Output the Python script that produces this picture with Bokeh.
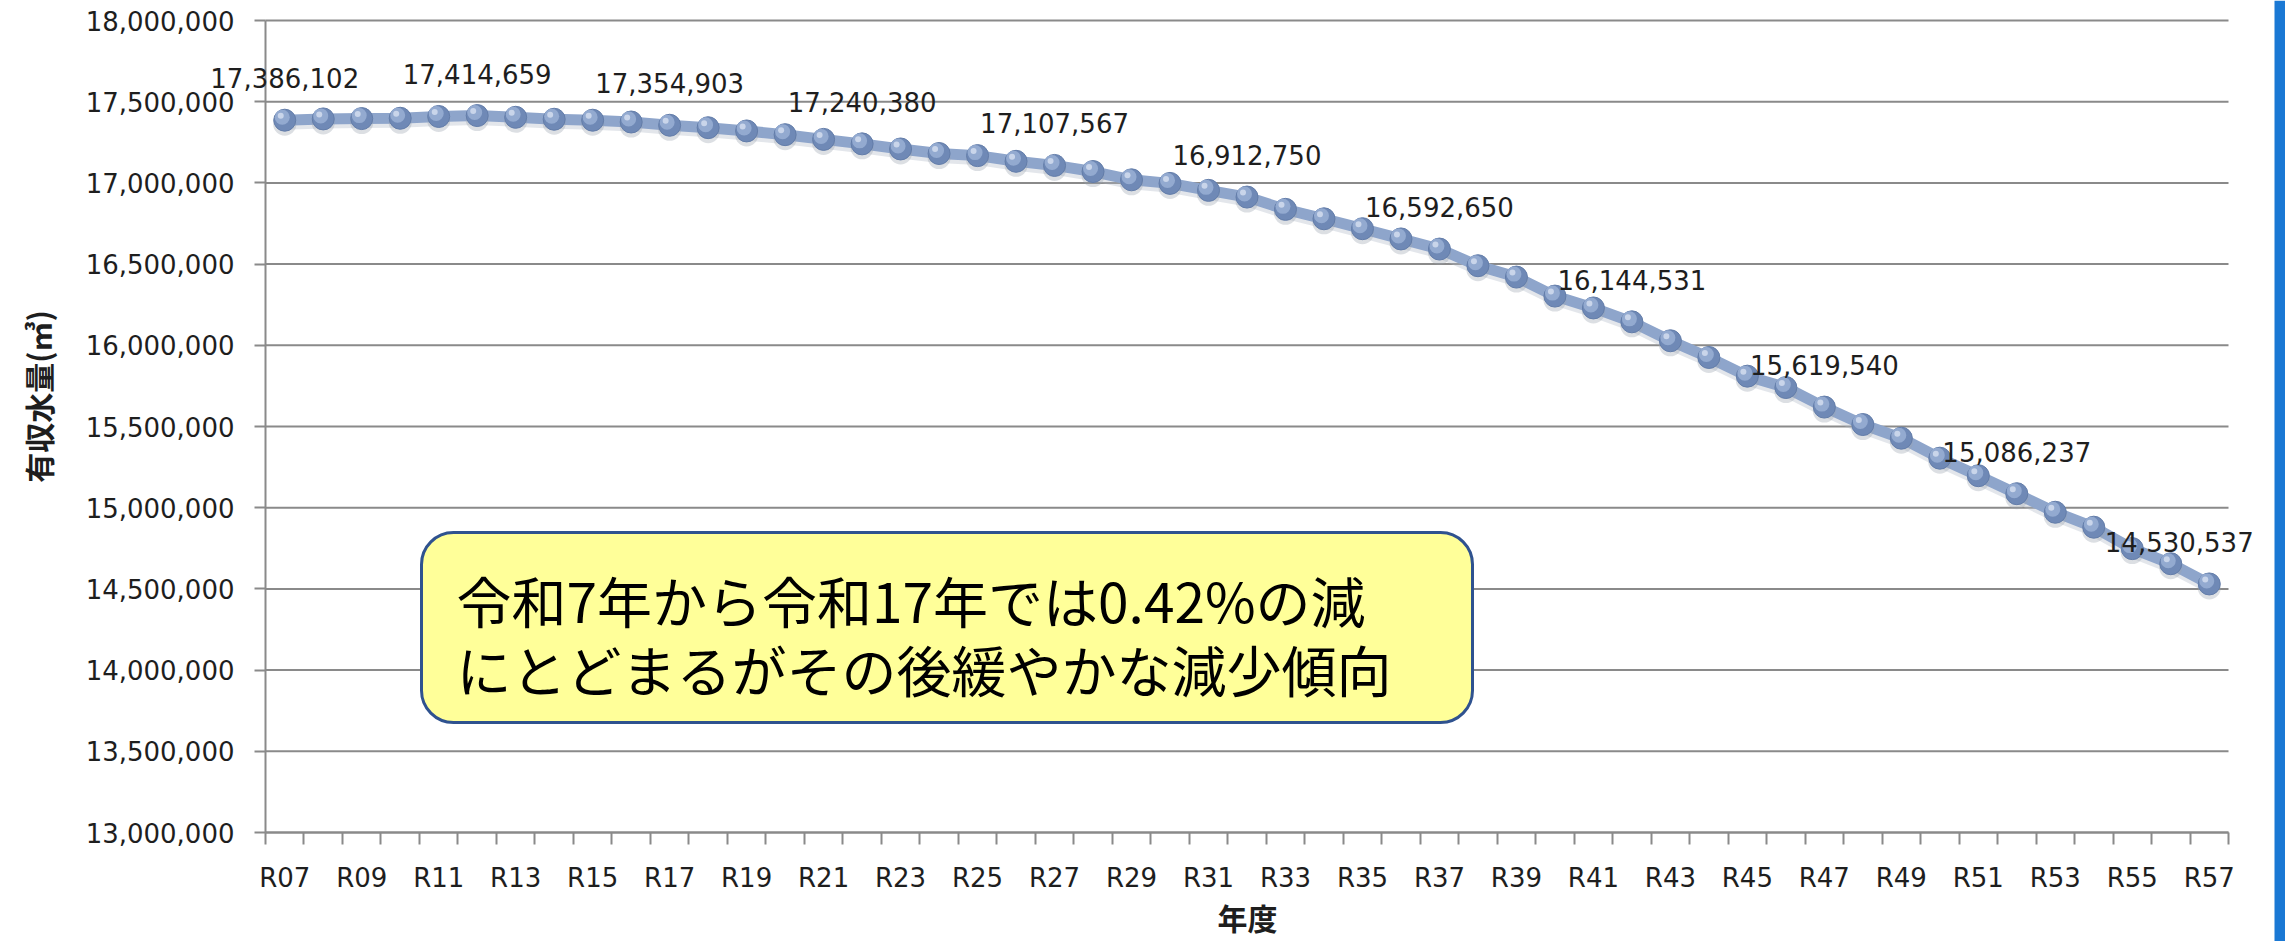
import math
from bokeh.plotting import figure
from bokeh.models import (Range1d, FixedTicker, NumeralTickFormatter, ColumnDataSource,
                          BoxAnnotation, Label)
from bokeh.embed import file_html
from bokeh.resources import INLINE

# ---------------- data ----------------
years = ["R07", "R08", "R09", "R10", "R11", "R12", "R13", "R14", "R15", "R16",
         "R17", "R18", "R19", "R20", "R21", "R22", "R23", "R24", "R25", "R26",
         "R27", "R28", "R29", "R30", "R31", "R32", "R33", "R34", "R35", "R36",
         "R37", "R38", "R39", "R40", "R41", "R42", "R43", "R44", "R45", "R46",
         "R47", "R48", "R49", "R50", "R51", "R52", "R53", "R54", "R55", "R56", "R57"]

volume = [17386102, 17394000, 17396000, 17398000, 17409000, 17414659, 17404000, 17392000,
          17386000, 17375000, 17354903, 17340000, 17320000, 17297000, 17268000, 17240380,
          17209000, 17181000, 17168000, 17133000, 17107567, 17070000, 17019000, 16997000,
          16954000, 16912750, 16837000, 16779000, 16718000, 16655000, 16592650, 16490000,
          16420000, 16303000, 16230000, 16144531, 16028000, 15925000, 15810000, 15740000,
          15619540, 15512000, 15428000, 15305000, 15197000, 15086237, 14972000, 14880000,
          14748000, 14655000, 14530537]

labelled_years = ["R07", "R12", "R17", "R22", "R27", "R32", "R37", "R42", "R47", "R52", "R57"]

y_ticks = [13000000, 13500000, 14000000, 14500000, 15000000, 15500000,
           16000000, 16500000, 17000000, 17500000, 18000000]

y_title = "有収水量(㎥)"
x_title = "年度"
note_lines = ["令和7年から令和17年では0.42%の減", "にとどまるがその後緩やかな減少傾向"]

# ---------------- layout (page pixels) ----------------
W, H = 2285, 941
AX_L, AX_R, AX_T, AX_B = 265, 2228, 20, 832      # where the axes box sits
n = len(years)
px_per_unit_x = (AX_R - AX_L) / n
px_per_unit_y = (AX_B - AX_T) / (y_ticks[-1] - y_ticks[0])

def sx(px):
    return (px - AX_L) / px_per_unit_x - 0.5

def sy(py):
    return y_ticks[-1] - (py - AX_T) / px_per_unit_y

# the frame covers the whole canvas; axes sit at fixed locations so that
# texts outside the axes box are not clipped
p = figure(width=W, height=H, output_backend="svg", toolbar_location=None,
           x_range=Range1d(sx(0), sx(W)), y_range=Range1d(sy(H), sy(0)),
           min_border=0)
p.min_border_left = 0
p.min_border_right = 0
p.min_border_top = 0
p.min_border_bottom = 0
p.outline_line_color = None
p.background_fill_color = "white"
p.border_fill_color = "white"

GRID = "#8a8a8a"
TXT = "#1e1e1e"
NUMFONT = "DejaVu Sans"
JPFONT = "Noto Sans CJK JP"

idx = list(range(n))
x_lo, x_hi = -0.5, n - 0.5

xa = p.xaxis[0]
xa.fixed_location = y_ticks[0]
xa.bounds = (x_lo, x_hi)
xa.ticker = FixedTicker(ticks=idx[::2], minor_ticks=[i - 0.5 for i in range(n + 1)])
xa.major_label_overrides = {i: years[i] for i in idx}
xa.major_tick_line_color = None
xa.major_tick_out = 12
xa.major_tick_in = 0
xa.minor_tick_out = 12
xa.minor_tick_in = 0
xa.minor_tick_line_color = GRID
xa.minor_tick_line_width = 2
xa.axis_line_color = GRID
xa.axis_line_width = 2
xa.major_label_standoff = 18
xa.major_label_text_font = NUMFONT
xa.major_label_text_font_size = "26px"
xa.major_label_text_color = TXT

ya = p.yaxis[0]
ya.fixed_location = x_lo
ya.bounds = (y_ticks[0], y_ticks[-1])
ya.ticker = FixedTicker(ticks=y_ticks, minor_ticks=[])
ya.formatter = NumeralTickFormatter(format="0,0")
ya.major_tick_out = 11
ya.major_tick_in = 0
ya.major_tick_line_color = GRID
ya.major_tick_line_width = 2
ya.minor_tick_line_color = None
ya.axis_line_color = GRID
ya.axis_line_width = 2
ya.major_label_standoff = 20
ya.major_label_text_font = NUMFONT
ya.major_label_text_font_size = "26px"
ya.major_label_text_color = TXT

p.xgrid.grid_line_color = None
p.ygrid.grid_line_color = None

# horizontal gridlines across the axes box
p.segment(x0=[x_lo] * len(y_ticks), x1=[x_hi] * len(y_ticks), y0=y_ticks, y1=y_ticks,
          line_color=GRID, line_width=2)

# ---------------- series ----------------
src = ColumnDataSource(dict(
    x=idx, y=volume,
    ys=[v - 4 / px_per_unit_y for v in volume],
    xh=[i - 2.5 / px_per_unit_x for i in idx],
    yh=[v + 3 / px_per_unit_y for v in volume],
    xh2=[i - 4 / px_per_unit_x for i in idx],
    yh2=[v + 4.5 / px_per_unit_y for v in volume],
))

p.line("x", "ys", source=src, line_color="#b0b8c6", line_width=11, line_alpha=0.35)
p.line("x", "y", source=src, line_color="#8EA5CB", line_width=11)
p.scatter("x", "ys", source=src, size=23, fill_color="#9aa3b0", fill_alpha=0.35, line_color=None)
p.scatter("x", "y", source=src, size=22, fill_color="#6f89b6", line_color="#637da9", line_width=1)
p.scatter("xh", "yh", source=src, size=15, fill_color="#93aad0", line_color=None)
p.scatter("xh2", "yh2", source=src, size=6, fill_color="#c9d5ea", line_color=None)

# data labels
lab_x = [years.index(y) for y in labelled_years]
lab_y = [volume[i] for i in lab_x]
lab_t = [f"{v:,}" for v in lab_y]
lab_dx = [0] * (len(lab_x) - 1) + [-30]
for xi, yi, ti, dxi in zip(lab_x, lab_y, lab_t, lab_dx):
    p.add_layout(Label(x=xi, y=yi, text=ti, x_offset=dxi, y_offset=32,
                       text_align="center", text_baseline="bottom",
                       text_font=NUMFONT, text_font_size="26px", text_color=TXT))

# axis titles
p.add_layout(Label(x=sx(1247), y=sy(916), text=x_title, text_font=JPFONT,
                   text_font_size="30px", text_font_style="bold", text_color=TXT,
                   text_align="center", text_baseline="middle"))
p.add_layout(Label(x=sx(37), y=sy(396), text=y_title, text_font=JPFONT, angle=math.pi / 2,
                   text_font_size="30px", text_font_style="bold", text_color=TXT,
                   text_align="center", text_baseline="middle"))

# ---------------- note box ----------------
box = BoxAnnotation(left=sx(421), right=sx(1472), top=sy(532), bottom=sy(722),
                    fill_color="#FFFF99", fill_alpha=1.0,
                    line_color="#2F528F", line_alpha=1.0, line_width=3, border_radius=32)
p.add_layout(box)
for line, py in zip(note_lines, [598, 667]):
    p.add_layout(Label(x=sx(456), y=sy(py), text=line, text_font=JPFONT,
                       text_font_size="55px", text_color="#000000",
                       text_align="left", text_baseline="middle"))

# slide background visible at the right edge
p.add_layout(BoxAnnotation(left=sx(2274), right=sx(W), top=sy(0), bottom=sy(H),
                           fill_color="#1a78d4", fill_alpha=1.0, line_color=None))

open("out.html", "w").write(file_html(p, INLINE))
